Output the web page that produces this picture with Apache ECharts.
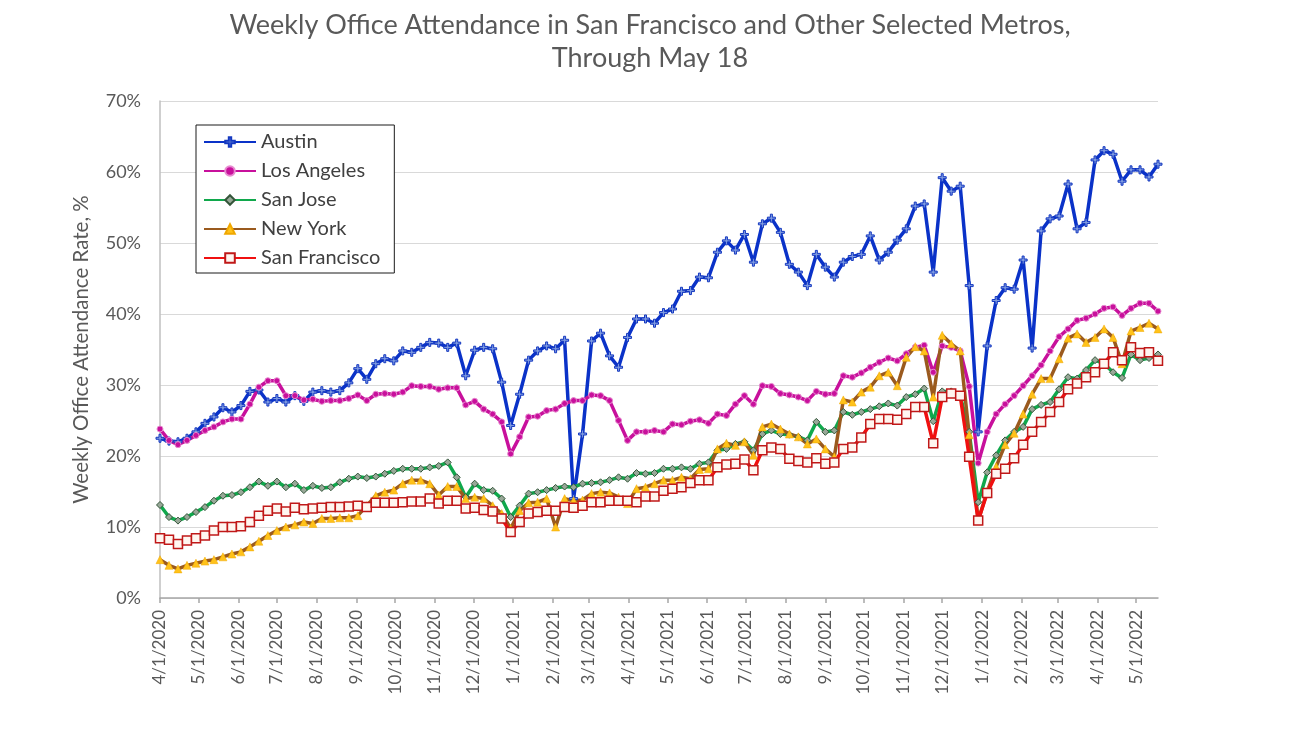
<!DOCTYPE html>
<html>
<head>
<meta charset="utf-8">
<script src="https://cdn.jsdelivr.net/npm/echarts@6/dist/echarts.min.js"></script>
<style>
  html, body { margin: 0; padding: 0; background: #fff; }
  #chart { width: 1300px; height: 731px; }
</style>
</head>
<body>
<div id="chart"></div>
<script>
// ---- Data (weekly, Wednesdays from 4/1/2020 through 5/18/2022) ----
const firstWeek = '4/1/2020';
const weekCount = 112;

const austin = [
  22.5, 22.1, 22.0, 22.5, 23.4, 24.6, 25.5, 26.8, 26.2, 27.1, 29.1, 29.3, 27.6, 28.1, 27.6, 28.5, 27.7, 29.0, 29.2,
  29.0, 29.2, 30.3, 32.3, 30.8, 33.0, 33.7, 33.4, 34.8, 34.6, 35.3, 36.0, 35.9, 35.3, 35.9, 31.3, 34.9, 35.3, 35.1,
  30.4, 24.3, 28.7, 33.5, 34.8, 35.5, 35.1, 36.3, 14.0, 23.1, 36.2, 37.3, 34.1, 32.5, 36.7, 39.3, 39.3, 38.7, 40.2,
  40.7, 43.2, 43.3, 45.2, 45.1, 48.7, 50.3, 49.0, 51.2, 47.3, 52.7, 53.5, 51.5, 47.0, 45.9, 44.0, 48.4, 46.6, 45.2,
  47.3, 48.1, 48.4, 51.0, 47.6, 48.7, 50.4, 52.0, 55.2, 55.5, 45.9, 59.2, 57.3, 58.0, 44.0, 23.4, 35.5, 41.9, 43.7,
  43.5, 47.6, 35.2, 51.7, 53.4, 53.8, 58.3, 52.0, 52.9, 61.7, 63.0, 62.5, 58.7, 60.3, 60.3, 59.3, 61.1
];
const losAngeles = [
  23.8, 22.2, 21.6, 22.2, 22.9, 23.6, 24.1, 24.8, 25.2, 25.2, 27.3, 29.7, 30.6, 30.6, 28.5, 28.5, 27.9, 28.0, 27.7,
  27.8, 27.8, 28.1, 28.6, 27.8, 28.7, 28.8, 28.7, 29.0, 29.9, 29.8, 29.8, 29.4, 29.6, 29.6, 27.2, 27.7, 26.6, 25.9,
  24.8, 20.3, 22.7, 25.5, 25.6, 26.4, 26.6, 27.4, 27.8, 27.8, 28.6, 28.5, 27.8, 25.0, 22.2, 23.4, 23.4, 23.6, 23.4,
  24.5, 24.4, 24.9, 25.1, 24.6, 25.9, 25.7, 27.3, 28.5, 27.3, 29.9, 29.8, 28.8, 28.6, 28.3, 27.8, 29.1, 28.7, 28.8,
  31.3, 31.1, 31.7, 32.5, 33.2, 33.8, 33.4, 34.4, 35.3, 35.6, 31.8, 35.5, 35.3, 34.8, 29.8, 19.0, 23.4, 25.9, 27.3,
  28.5, 29.9, 31.3, 32.8, 34.8, 36.8, 37.9, 39.1, 39.4, 40.0, 40.8, 41.0, 39.8, 40.8, 41.5, 41.5, 40.4
];
const sanJose = [
  13.1, 11.4, 10.9, 11.4, 12.1, 12.8, 13.7, 14.4, 14.5, 14.9, 15.6, 16.4, 15.8, 16.4, 15.6, 16.1, 15.2, 15.8, 15.5,
  15.6, 16.3, 16.8, 17.1, 16.9, 17.1, 17.5, 17.9, 18.2, 18.2, 18.2, 18.4, 18.6, 19.1, 17.0, 14.2, 16.1, 15.2, 15.1,
  14.0, 11.4, 13.0, 14.7, 14.9, 15.2, 15.5, 15.7, 15.6, 16.1, 16.2, 16.3, 16.6, 17.0, 16.8, 17.6, 17.5, 17.6, 18.2,
  18.2, 18.4, 18.2, 18.9, 19.1, 20.8, 21.0, 21.7, 22.0, 20.8, 23.1, 23.6, 23.1, 23.0, 22.7, 22.2, 24.8, 23.4, 23.6,
  26.2, 25.8, 26.2, 26.6, 27.0, 27.4, 27.1, 28.3, 28.7, 29.5, 24.9, 29.1, 29.1, 28.5, 23.4, 13.5, 17.7, 20.1, 22.2,
  23.4, 24.1, 26.6, 27.2, 27.6, 29.4, 31.1, 30.9, 32.1, 33.5, 33.0, 31.8, 31.0, 34.3, 33.5, 33.8, 34.3
];
const newYork = [
  5.4, 4.6, 4.1, 4.6, 4.9, 5.2, 5.4, 5.8, 6.2, 6.5, 7.2, 8.0, 8.8, 9.5, 10.0, 10.3, 10.7, 10.5, 11.2,
  11.2, 11.3, 11.3, 11.6, 13.0, 14.4, 14.9, 15.2, 16.1, 16.6, 16.6, 16.1, 14.5, 15.7, 15.7, 14.0, 14.2, 14.0, 13.0,
  11.9, 9.8, 12.3, 13.4, 13.5, 14.0, 10.0, 14.0, 13.7, 13.8, 14.7, 14.9, 14.8, 14.2, 13.3, 15.4, 15.6, 16.1, 16.6,
  16.6, 17.0, 16.8, 18.1, 18.2, 21.0, 21.8, 21.5, 22.0, 20.1, 24.1, 24.5, 23.8, 23.1, 22.7, 21.7, 22.4, 21.0, 19.9,
  27.9, 27.6, 29.0, 29.7, 31.3, 31.8, 29.9, 33.9, 35.4, 34.8, 28.3, 37.0, 35.8, 34.8, 23.0, 10.9, 15.0, 18.5, 21.6,
  23.2, 25.9, 28.7, 30.9, 30.9, 33.7, 36.6, 37.2, 36.0, 36.7, 37.9, 36.7, 33.0, 37.6, 38.1, 38.7, 37.9
];
const sanFrancisco = [
  8.4, 8.2, 7.6, 8.1, 8.4, 8.8, 9.5, 10.0, 10.0, 10.1, 10.7, 11.6, 12.3, 12.6, 12.2, 12.7, 12.5, 12.6, 12.7,
  12.8, 12.8, 12.9, 13.0, 12.8, 13.4, 13.4, 13.4, 13.5, 13.6, 13.6, 14.0, 13.3, 13.7, 13.7, 12.6, 12.7, 12.4, 12.2,
  11.2, 9.3, 10.7, 11.9, 12.1, 12.3, 12.3, 12.8, 12.7, 13.0, 13.5, 13.5, 13.7, 13.7, 13.7, 13.5, 14.3, 14.3, 15.1,
  15.4, 15.6, 16.2, 16.6, 16.6, 18.4, 18.8, 18.9, 19.5, 18.0, 20.8, 21.2, 21.0, 19.6, 19.3, 19.1, 19.7, 18.9, 19.1,
  21.0, 21.2, 22.6, 24.5, 25.2, 25.2, 25.1, 25.9, 26.9, 26.9, 21.8, 28.3, 28.8, 28.5, 19.9, 10.9, 14.8, 17.5, 18.2,
  19.7, 21.6, 23.4, 24.8, 26.2, 27.6, 29.4, 30.2, 31.1, 31.8, 33.0, 34.6, 33.5, 35.3, 34.5, 34.6, 33.4
];
const seriesNames = ['Austin', 'Los Angeles', 'San Jose', 'New York', 'San Francisco'];
const tickLabels = [
  '4/1/2020', '5/1/2020', '6/1/2020', '7/1/2020', '8/1/2020', '9/1/2020', '10/1/2020', '11/1/2020', '12/1/2020',
  '1/1/2021', '2/1/2021', '3/1/2021', '4/1/2021', '5/1/2021', '6/1/2021', '7/1/2021', '8/1/2021', '9/1/2021',
  '10/1/2021', '11/1/2021', '12/1/2021', '1/1/2022', '2/1/2022', '3/1/2022', '4/1/2022', '5/1/2022'
];

// ---- Build: x axis is "days since the first week" ----
function utcDay(s) {
  const p = s.split('/').map(Number);
  return Date.UTC(p[2], p[0] - 1, p[1]) / 86400000;
}
const day0 = utcDay(firstWeek);
const weekDays = [];
for (let i = 0; i < weekCount; i++) weekDays.push(7 * i);
const tickDays = tickLabels.map(s => utcDay(s) - day0);
const labelByDay = {};
tickLabels.forEach((s, i) => { labelByDay[tickDays[i]] = s; });
function pairs(arr) { return arr.map((v, i) => [weekDays[i], v]); }

const FONT = 'Lato';
const TXT = '#595959';
const plusPath = 'path://M3,0 H5 V3 H8 V5 H5 V8 H3 V5 H0 V3 H3 Z';

const styles = [
  { data: austin, color: '#0a32c8', symbol: plusPath, size: 8, fill: '#7f9be0', border: '#1438c0', bw: 1 },
  { data: losAngeles, color: '#c8109c', symbol: 'circle', size: 6, fill: '#c8109c', border: '#e88ad0', bw: 1 },
  { data: sanJose, color: '#10a84c', symbol: 'diamond', size: 7, fill: '#98a898', border: '#34553a', bw: 1 },
  { data: newYork, color: '#9a5a1e', symbol: 'triangle', size: 8, fill: '#ffc21a', border: '#f0a800', bw: 0.5 },
  { data: sanFrancisco, color: '#f01010', symbol: 'rect', size: 9, fill: '#fff6f0', border: '#c01818', bw: 1.5 }
];

const chart = echarts.init(document.getElementById('chart'), null, { renderer: 'canvas' });
chart.setOption({
  animation: false,
  backgroundColor: '#ffffff',
  title: {
    text: 'Weekly Office Attendance in San Francisco and Other Selected Metros,\nThrough May 18',
    left: 'center',
    top: 4,
    textStyle: { fontFamily: FONT, fontSize: 27, fontWeight: 'normal', color: TXT, lineHeight: 33 }
  },
  legend: {
    orient: 'vertical',
    left: 196,
    top: 125,
    padding: [7, 14, 5, 7],
    backgroundColor: '#ffffff',
    borderColor: '#1a1a1a',
    borderWidth: 1,
    itemWidth: 52,
    itemHeight: 12,
    itemGap: 9,
    data: seriesNames,
    textStyle: { fontFamily: FONT, fontSize: 20, color: '#404040' }
  },
  grid: { left: 160, right: 142, top: 101, bottom: 133, containLabel: false },
  xAxis: {
    type: 'value',
    min: weekDays[0],
    max: weekDays[weekDays.length - 1],
    axisLine: { show: true, onZero: false, lineStyle: { color: '#a6a6a6', width: 1.5 } },
    axisTick: { show: true, customValues: tickDays, length: 5, lineStyle: { color: '#a6a6a6', width: 1.5 } },
    axisLabel: {
      customValues: tickDays,
      rotate: 90,
      margin: 12,
      formatter: (v) => labelByDay[v] || '',
      fontFamily: FONT,
      fontSize: 17,
      color: TXT,
      showMinLabel: true,
      showMaxLabel: true
    },
    splitLine: { show: false }
  },
  yAxis: {
    type: 'value',
    min: 0,
    max: 70,
    interval: 10,
    name: 'Weekly Office Attendance Rate, %',
    nameLocation: 'middle',
    nameGap: 68,
    nameTextStyle: { fontFamily: FONT, fontSize: 20.5, color: TXT },
    axisLine: { show: true, lineStyle: { color: '#bfbfbf', width: 1.5 } },
    axisTick: { show: false },
    axisLabel: { formatter: '{value}%', fontFamily: FONT, fontSize: 18, color: TXT, margin: 19 },
    splitLine: { show: true, lineStyle: { color: '#d9d9d9', width: 1 } }
  },
  series: styles.map((s, i) => ({
    name: seriesNames[i],
    type: 'line',
    data: pairs(s.data),
    symbol: s.symbol,
    symbolSize: s.size,
    showSymbol: true,
    lineStyle: { color: s.color, width: 3.5 },
    itemStyle: { color: s.fill, borderColor: s.border, borderWidth: s.bw },
    emphasis: { disabled: true }
  }))
});
</script>
</body>
</html>
